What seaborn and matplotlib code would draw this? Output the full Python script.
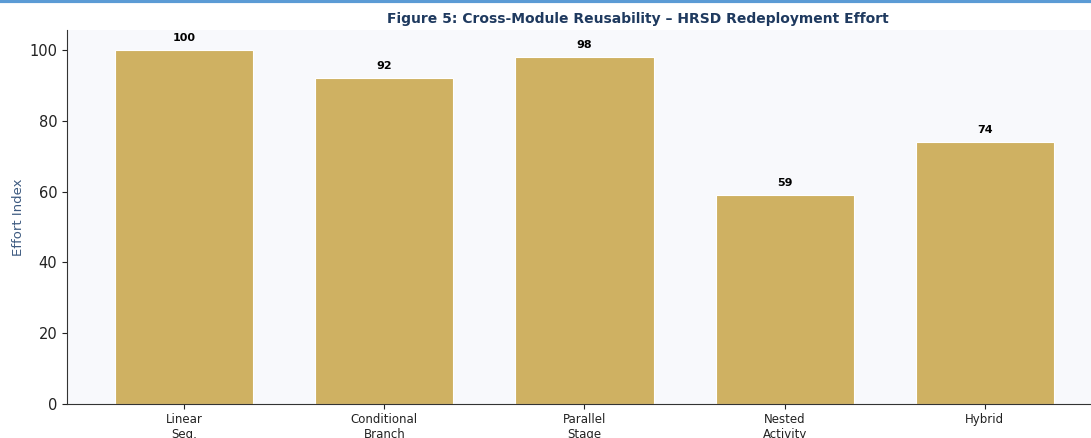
import matplotlib
matplotlib.use("Agg")
import matplotlib.pyplot as plt
import seaborn as sns
import pandas as pd

categories = ["Linear\nSeq.", "Conditional\nBranch", "Parallel\nStage", "Nested\nActivity", "Hybrid"]
effort = [100, 92, 98, 59, 74]

df = pd.DataFrame({"pattern": categories, "effort": effort})

sns.set_style("ticks")
plt.rcParams['font.family'] = ['DejaVu Sans']

fig = plt.figure(figsize=(10.91, 4.38), dpi=100)
ax = fig.add_axes([0.0614, 0.0776, 0.9386, 0.8539])
ax.set_facecolor("#f8f9fc")

sns.barplot(data=df, x="pattern", y="effort", color="#cfb162", width=0.69,
            saturation=1, edgecolor="white", linewidth=0.8, ax=ax)

# value labels above bars
for i, v in enumerate(effort):
    ax.annotate(str(v), (i, v), xytext=(0, 5), textcoords="offset points",
                ha="center", va="bottom", fontsize=8, fontweight="bold", color="black")

ax.set_xlim(-0.585, 4.53)
ax.set_ylim(0, 105.6)
ax.set_yticks([0, 20, 40, 60, 80, 100])
ax.tick_params(axis="y", labelsize=10.5, colors="#222222")
ax.tick_params(axis="x", labelsize=8.5, colors="#222222", pad=3)
ax.set_xlabel("")
ax.set_ylabel("Effort Index", color="#3d5a80", fontsize=9.5, labelpad=3)
for s in ["top", "right"]:
    ax.spines[s].set_visible(False)
ax.spines["left"].set_color("#333333")
ax.spines["bottom"].set_color("#333333")

fig.text(0.585, 0.957, "Figure 5: Cross-Module Reusability \u2013 HRSD Redeployment Effort",
         ha="center", va="center", fontsize=10, fontweight="bold", color="#1f3a5f")
fig.add_artist(plt.Line2D([0, 1], [0.997, 0.997], color="#5b9bd5", linewidth=3,
                          transform=fig.transFigure))

fig.savefig("out.png", dpi=100)
